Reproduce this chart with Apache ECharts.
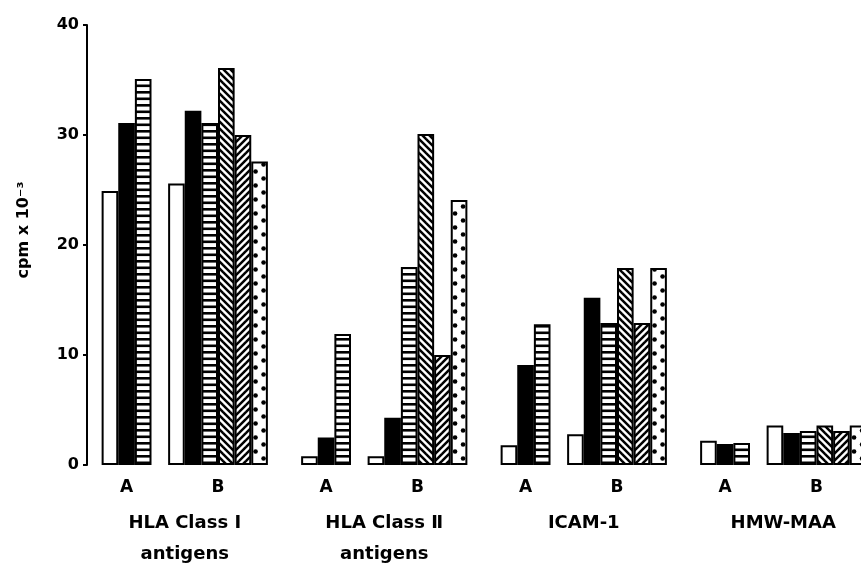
<!DOCTYPE html>
<html>
<head>
<meta charset="utf-8">
<script src="https://cdn.jsdelivr.net/npm/echarts@6/dist/echarts.min.js"></script>
<style>
html,body{margin:0;padding:0;background:#fff;overflow:hidden;width:861px;height:570px;}
#chart{width:900px;height:570px;}
</style>
</head>
<body>
<div id="chart"></div>
<script>
// ---- data (cpm x 10^-3) ----
const antigenNames = ['HLA Class \u2160\nantigens', 'HLA Class \u2161\nantigens', 'ICAM-1', 'HMW-MAA'];
const subgroupNames = ['A', 'B'];
const seriesNames = ['open', 'solid', 'horizontal lines', 'right diagonal', 'left diagonal', 'dotted'];
const hlaI_A  = [24.9, 31.1, 35.1];
const hlaI_B  = [25.6, 32.2, 31.1, 36.1, 30.0, 27.6];
const hlaII_A = [0.8, 2.5, 11.9];
const hlaII_B = [0.8, 4.3, 18.0, 30.1, 10.0, 24.1];
const icam_A  = [1.8, 9.1, 12.8];
const icam_B  = [2.8, 15.2, 12.9, 17.9, 12.9, 17.9];
const hmw_A   = [2.2, 1.9, 2.0];
const hmw_B   = [3.6, 2.9, 3.1, 3.6, 3.1, 3.6];
const yTicks  = [0, 10, 20, 30, 40];

const groupA = [hlaI_A, hlaII_A, icam_A, hmw_A];
const groupB = [hlaI_B, hlaII_B, icam_B, hmw_B];

// ---- slot layout: 1 lead blank, then per antigen: A(3) blank(1) B(6) blank(2) ----
const PERIOD = 12;
const nSlots = 1 + PERIOD * (antigenNames.length - 1) + 10;
const categories = [];
for (let i = 0; i < nSlots; i++) categories.push('s' + i);

const seriesData = seriesNames.map(() => new Array(nSlots).fill(null));
for (let g = 0; g < antigenNames.length; g++) {
  const base = 1 + PERIOD * g;
  groupA[g].forEach((v, s) => { seriesData[s][base + s] = v; });
  groupB[g].forEach((v, s) => { seriesData[s][base + 4 + s] = v; });
}

// label positions on a value axis spanning the slots
const subLabelMap = {};
const groupLabelMap = {};
for (let g = 0; g < antigenNames.length; g++) {
  const base = 1 + PERIOD * g;
  subLabelMap[base + 1.5] = subgroupNames[0];
  subLabelMap[base + 7] = subgroupNames[1];
  groupLabelMap[base + 5] = antigenNames[g];
}

// ---- geometry ----
const GRID_LEFT = 85;
const SLOT = 16.625;
const gridWidth = SLOT * nSlots;

// ---- fill patterns ----
function tile(w, h, draw) {
  const c = document.createElement('canvas');
  c.width = w; c.height = h;
  const ctx = c.getContext('2d');
  ctx.fillStyle = '#fff';
  ctx.fillRect(0, 0, w, h);
  ctx.fillStyle = '#000';
  ctx.strokeStyle = '#000';
  draw(ctx, w, h);
  return { image: c, repeat: 'repeat' };
}
const patHoriz = tile(8, 13, (ctx) => {
  ctx.fillRect(0, 0, 8, 2.6);
  ctx.fillRect(0, 6.5, 8, 2.6);
});
const patBack = tile(7, 7, (ctx) => {
  ctx.lineWidth = 2.5;
  for (let k = -1; k <= 1; k++) {
    ctx.beginPath();
    ctx.moveTo(k * 7 - 2, -2);
    ctx.lineTo(k * 7 + 9, 9);
    ctx.stroke();
  }
});
const patFwd = tile(7, 7, (ctx) => {
  ctx.lineWidth = 2.5;
  for (let k = -1; k <= 1; k++) {
    ctx.beginPath();
    ctx.moveTo(k * 7 - 2, 9);
    ctx.lineTo(k * 7 + 9, -2);
    ctx.stroke();
  }
});
const patDots = tile(133, 14, (ctx, w) => {
  const off = GRID_LEFT % 133 - Math.floor((GRID_LEFT % 133) / SLOT) * SLOT;
  for (let j = 0; j < 8; j++) {
    const s = off + j * SLOT;
    const pts = [[s + 4.3, 3.5], [s + 12.3, 10.5]];
    pts.forEach(([x, y]) => {
      [x - w, x, x + w].forEach((xx) => {
        ctx.beginPath();
        ctx.arc(xx, y, 2.3, 0, Math.PI * 2);
        ctx.fill();
      });
    });
  }
});
const fills = ['#ffffff', '#000000', patHoriz, patBack, patFwd, patDots];

const FONT = 'DejaVu Sans';
const chart = echarts.init(document.getElementById('chart'), null, { renderer: 'canvas' });
chart.setOption({
  animation: false,
  backgroundColor: '#ffffff',
  grid: { left: GRID_LEFT, width: gridWidth, top: 25, bottom: 102, containLabel: false },
  xAxis: [
    { type: 'category', data: categories, show: false, boundaryGap: true },
    {
      type: 'value', min: 0, max: nSlots, interval: 0.5, position: 'bottom',
      axisLine: { show: false }, axisTick: { show: false }, splitLine: { show: false },
      axisLabel: {
        margin: 13, color: '#000', fontFamily: FONT, fontWeight: 'bold', fontSize: 17, lineHeight: 20,
        formatter: (v) => subLabelMap[v] || ''
      }
    },
    {
      type: 'value', min: 0, max: nSlots, interval: 0.5, position: 'bottom',
      axisLine: { show: false }, axisTick: { show: false }, splitLine: { show: false },
      axisLabel: {
        margin: 43, color: '#000', fontFamily: FONT, fontWeight: 'bold', fontSize: 18, lineHeight: 31,
        formatter: (v) => groupLabelMap[v] || ''
      }
    }
  ],
  yAxis: {
    type: 'value', min: yTicks[0], max: yTicks[yTicks.length - 1], interval: 10,
    offset: -2,
    name: 'cpm x 10\u207B\u00B3', nameLocation: 'middle', nameGap: 55, nameRotate: 90,
    nameTextStyle: { color: '#000', fontFamily: FONT, fontWeight: 'bold', fontSize: 16, padding: [0, 0, 0, 30] },
    axisLine: { show: true, lineStyle: { color: '#000', width: 2 } },
    axisTick: { show: true, length: 4, lineStyle: { color: '#000', width: 2 } },
    splitLine: { show: false },
    axisLabel: { color: '#000', fontFamily: FONT, fontWeight: 'bold', fontSize: 16, margin: 8 }
  },
  series: seriesNames.map((name, s) => ({
    name: name,
    type: 'bar',
    xAxisIndex: 0,
    data: seriesData[s],
    barGap: '-100%',
    barCategoryGap: '0%',
    itemStyle: { color: fills[s], borderColor: '#000', borderWidth: 2 }
  }))
});
</script>
</body>
</html>
